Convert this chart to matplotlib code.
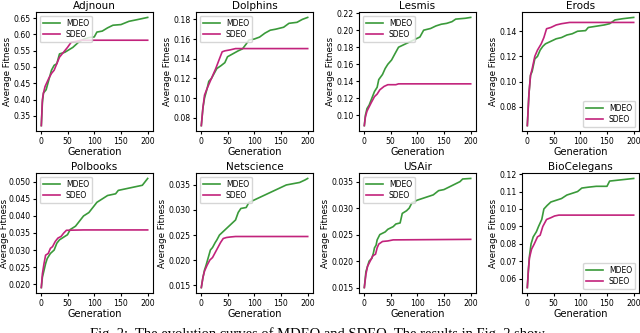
import matplotlib
matplotlib.use("Agg")
import matplotlib.pyplot as plt
from matplotlib.ticker import MultipleLocator, FormatStrFormatter

GREEN = "#3a9a3a"
PINK = "#c2237c"

titles = ["Adjnoun", "Dolphins", "Lesmis", "Erods",
          "Polbooks", "Netscience", "USAir", "BioCelegans"]

# (generation, fitness) points
adj_m_x = [1, 3, 5, 10, 15, 20, 25, 30, 35, 45, 50, 60, 70, 80, 90, 100, 105, 115, 125, 135, 150, 165, 180, 200]
adj_m_y = [0.32, 0.39, 0.42, 0.43, 0.46, 0.49, 0.505, 0.51, 0.54, 0.545, 0.55, 0.56, 0.575, 0.585, 0.59, 0.592, 0.607, 0.61, 0.62, 0.628, 0.63, 0.64, 0.645, 0.652]
adj_s_x = [1, 3, 5, 8, 15, 20, 25, 30, 35, 45, 50, 57, 65, 75, 200]
adj_s_y = [0.32, 0.40, 0.42, 0.44, 0.465, 0.48, 0.49, 0.51, 0.53, 0.55, 0.56, 0.576, 0.578, 0.582, 0.582]

dol_m_x = [1, 4, 7, 12, 15, 20, 25, 30, 38, 45, 50, 60, 70, 78, 85, 90, 100, 110, 120, 130, 140, 155, 165, 180, 190, 200]
dol_m_y = [0.072, 0.09, 0.10, 0.11, 0.117, 0.12, 0.125, 0.13, 0.133, 0.136, 0.142, 0.145, 0.148, 0.15, 0.155, 0.159, 0.16, 0.162, 0.166, 0.169, 0.17, 0.172, 0.176, 0.177, 0.18, 0.182]
dol_s_x = [1, 4, 7, 12, 20, 28, 35, 40, 45, 55, 65, 200]
dol_s_y = [0.072, 0.09, 0.103, 0.11, 0.12, 0.13, 0.14, 0.147, 0.148, 0.149, 0.1503, 0.1503]

les_m_x = [1, 3, 6, 10, 15, 20, 25, 28, 35, 40, 45, 52, 58, 65, 75, 85, 95, 105, 112, 125, 135, 145, 155, 165, 172, 190, 200]
les_m_y = [0.088, 0.10, 0.108, 0.112, 0.12, 0.128, 0.133, 0.142, 0.148, 0.155, 0.16, 0.165, 0.172, 0.18, 0.183, 0.186, 0.189, 0.192, 0.20, 0.202, 0.205, 0.207, 0.208, 0.21, 0.213, 0.214, 0.215]
les_s_x = [1, 3, 6, 10, 14, 20, 25, 30, 38, 45, 60, 65, 200]
les_s_y = [0.088, 0.098, 0.105, 0.11, 0.115, 0.122, 0.125, 0.13, 0.134, 0.136, 0.136, 0.137, 0.137]

ero_m_x = [1, 4, 7, 10, 15, 20, 25, 30, 35, 45, 55, 65, 75, 85, 95, 110, 115, 130, 145, 155, 165, 180, 200]
ero_m_y = [0.065, 0.09, 0.105, 0.108, 0.118, 0.12, 0.125, 0.128, 0.13, 0.132, 0.134, 0.135, 0.137, 0.138, 0.14, 0.1405, 0.143, 0.144, 0.145, 0.146, 0.149, 0.15, 0.151]
ero_s_x = [1, 4, 7, 10, 15, 20, 27, 32, 37, 45, 55, 65, 80, 200]
ero_s_y = [0.065, 0.09, 0.105, 0.11, 0.12, 0.125, 0.13, 0.135, 0.142, 0.143, 0.145, 0.146, 0.147, 0.147]

pol_m_x = [1, 3, 6, 9, 12, 18, 25, 30, 35, 45, 50, 55, 65, 70, 80, 90, 100, 105, 115, 125, 140, 145, 160, 175, 190, 195, 200]
pol_m_y = [0.019, 0.022, 0.024, 0.026, 0.0275, 0.029, 0.030, 0.032, 0.033, 0.034, 0.0345, 0.036, 0.037, 0.038, 0.040, 0.041, 0.043, 0.044, 0.045, 0.046, 0.0465, 0.0475, 0.048, 0.0485, 0.049, 0.050, 0.051]
pol_s_x = [1, 3, 6, 9, 14, 18, 22, 27, 32, 38, 43, 48, 80, 200]
pol_s_y = [0.019, 0.023, 0.026, 0.0285, 0.029, 0.0305, 0.031, 0.0325, 0.0335, 0.034, 0.035, 0.0358, 0.0359, 0.0359]

net_m_x = [1, 4, 7, 10, 14, 18, 22, 27, 30, 35, 40, 45, 50, 55, 60, 65, 70, 75, 85, 90, 100, 110, 120, 130, 140, 150, 160, 170, 185, 195, 200]
net_m_y = [0.0145, 0.0165, 0.018, 0.019, 0.0205, 0.022, 0.0225, 0.0235, 0.024, 0.025, 0.0255, 0.026, 0.0265, 0.027, 0.0275, 0.028, 0.0295, 0.0303, 0.0305, 0.0315, 0.032, 0.0325, 0.033, 0.0335, 0.034, 0.0345, 0.035, 0.0352, 0.0355, 0.036, 0.0363]
net_s_x = [1, 4, 7, 12, 17, 22, 27, 32, 37, 42, 48, 55, 65, 200]
net_s_y = [0.0145, 0.0165, 0.0178, 0.019, 0.020, 0.0205, 0.0215, 0.0225, 0.0235, 0.0243, 0.0245, 0.0246, 0.0247, 0.0247]

usa_m_x = [1, 4, 7, 10, 15, 18, 20, 23, 25, 30, 40, 45, 55, 60, 68, 72, 80, 85, 90, 100, 115, 130, 140, 150, 160, 170, 180, 185, 200]
usa_m_y = [0.015, 0.018, 0.019, 0.020, 0.0205, 0.0215, 0.0225, 0.023, 0.024, 0.025, 0.0255, 0.026, 0.0265, 0.027, 0.0272, 0.029, 0.0295, 0.030, 0.031, 0.0315, 0.032, 0.0325, 0.0333, 0.0335, 0.034, 0.0345, 0.035, 0.0355, 0.0356]
usa_s_x = [1, 4, 7, 12, 17, 22, 25, 28, 35, 45, 55, 200]
usa_s_y = [0.015, 0.0175, 0.019, 0.020, 0.021, 0.0213, 0.0225, 0.0232, 0.0237, 0.0238, 0.024, 0.0241]

bio_m_x = [1, 3, 5, 8, 12, 18, 22, 28, 32, 38, 45, 55, 65, 75, 85, 95, 103, 115, 130, 150, 155, 170, 185, 200]
bio_m_y = [0.055, 0.065, 0.073, 0.080, 0.084, 0.087, 0.090, 0.094, 0.100, 0.102, 0.104, 0.105, 0.106, 0.108, 0.109, 0.110, 0.112, 0.1125, 0.113, 0.113, 0.116, 0.1165, 0.117, 0.1175]
bio_s_x = [1, 3, 5, 9, 14, 20, 25, 30, 37, 45, 52, 60, 200]
bio_s_y = [0.055, 0.065, 0.072, 0.077, 0.080, 0.084, 0.085, 0.090, 0.094, 0.095, 0.096, 0.0965, 0.0965]

mdeo = [(adj_m_x, adj_m_y), (dol_m_x, dol_m_y), (les_m_x, les_m_y), (ero_m_x, ero_m_y),
        (pol_m_x, pol_m_y), (net_m_x, net_m_y), (usa_m_x, usa_m_y), (bio_m_x, bio_m_y)]
sdeo = [(adj_s_x, adj_s_y), (dol_s_x, dol_s_y), (les_s_x, les_s_y), (ero_s_x, ero_s_y),
        (pol_s_x, pol_s_y), (net_s_x, net_s_y), (usa_s_x, usa_s_y), (bio_s_x, bio_s_y)]
legend_loc = ["upper left"] * 3 + ["lower right"] + ["upper left"] * 3 + ["lower right"]
ytick_step = [0.05, 0.02, 0.02, 0.02, 0.005, 0.005, 0.005, 0.01]
ytick_fmt = ["%.2f", "%.2f", "%.2f", "%.2f", "%.3f", "%.3f", "%.3f", "%.2f"]

fig = plt.figure(figsize=(6.4, 3.33), dpi=100)
lefts = [36, 196, 359, 522]
rows = [(12, 131), (173, 293)]

for i in range(8):
    top, bot = rows[i // 4]
    ax = fig.add_axes([lefts[i % 4] / 640, (333 - bot) / 333, 117 / 640, (bot - top) / 333])
    ax.plot(mdeo[i][0], mdeo[i][1], color=GREEN, lw=1.2, label="MDEO")
    ax.plot(sdeo[i][0], sdeo[i][1], color=PINK, lw=1.2, label="SDEO")
    ax.set_xticks([0, 50, 100, 150, 200])
    ax.yaxis.set_major_locator(MultipleLocator(ytick_step[i]))
    ax.yaxis.set_major_formatter(FormatStrFormatter(ytick_fmt[i]))
    ax.set_title(titles[i], fontsize=7.5, pad=2)
    ax.set_xlabel("Generation", fontsize=7, labelpad=1)
    ax.set_ylabel("Average Fitness", fontsize=6.3, labelpad=1)
    ax.tick_params(labelsize=5.6, length=2.5, pad=1.5)
    ax.legend(loc=legend_loc[i], fontsize=5.5, handlelength=2.2, borderpad=0.4, labelspacing=0.3)
    for s in ax.spines.values():
        s.set_linewidth(0.8)
    if i == 4:
        ax.yaxis.set_label_coords(-0.235, 0.5)

fig.text(0.14, 6 / 333, "Fig. 2:  The evolution curves of MDEO and SDEO. The results in Fig. 2 show",
         family="Liberation Serif", fontsize=10.5, va="top", ha="left")

fig.savefig("out.png", dpi=100)
